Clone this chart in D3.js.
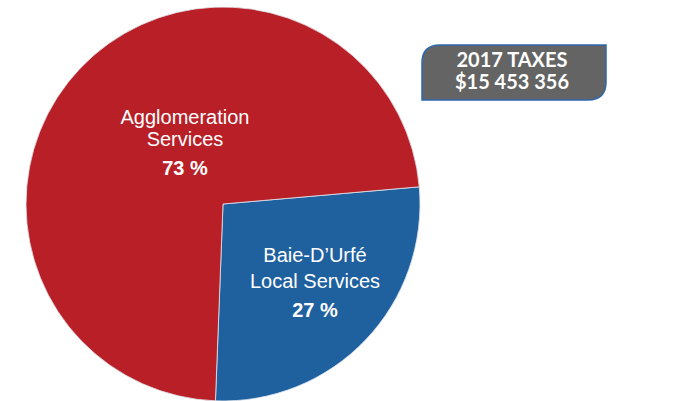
<!DOCTYPE html>
<html>
<head>
<meta charset="utf-8">
<script src="https://cdn.jsdelivr.net/npm/d3@7"></script>
<style>
  html, body { margin: 0; padding: 0; background: #fff; }
  svg { display: block; }
</style>
</head>
<body>
<svg id="chart" width="690" height="401"></svg>
<script>
// Data
var categories = ["Baie-D\u2019Urfé Local Services", "Agglomeration Services"];
var shares = [27, 73];
var labelLines = [["Baie-D\u2019Urfé", "Local Services"], ["Agglomeration", "Services"]];
var pctLabels = ["27 %", "73 %"];
var colors = ["#1f609f", "#b81f27"];
var boxLines = ["2017 TAXES", "$15 453 356"];

var svg = d3.select("#chart");
var cx = 223, cy = 204, radius = 197;

var pie = d3.pie()
  .sort(null)
  .startAngle(85 * Math.PI / 180)
  .endAngle(85 * Math.PI / 180 + 2 * Math.PI);
var arc = d3.arc().innerRadius(0).outerRadius(radius);

var g = svg.append("g").attr("transform", "translate(" + cx + "," + cy + ")");

g.selectAll("path.slice")
  .data(pie(shares))
  .enter().append("path")
    .attr("class", "slice")
    .attr("d", arc)
    .style("fill", function(d, i) { return colors[i]; })
    .style("stroke", "#dfe6ee")
    .style("stroke-width", 0.8);

// label anchors (relative to pie centre), one per slice
var labelPos = [{x: 92, y: 58, gap: 26, pctGap: 29},
                {x: -38, y: -80, gap: 22, pctGap: 29}];

var labels = g.selectAll("g.lbl")
  .data(shares)
  .enter().append("g")
    .attr("class", "lbl")
    .attr("transform", function(d, i) {
      return "translate(" + labelPos[i].x + "," + labelPos[i].y + ")";
    });

labels.each(function(d, i) {
  var sel = d3.select(this);
  labelLines[i].forEach(function(t, j) {
    sel.append("text")
      .attr("y", j * labelPos[i].gap)
      .attr("text-anchor", "middle")
      .style("font-family", "'Liberation Sans', Arial, sans-serif")
      .style("font-size", "20px")
      .style("fill", "#fff")
      .text(t);
  });
  sel.append("text")
    .attr("y", labelPos[i].gap + labelPos[i].pctGap)
    .attr("text-anchor", "middle")
    .style("font-family", "'Liberation Sans', Arial, sans-serif")
    .style("font-size", "20px")
    .style("font-weight", "bold")
    .style("fill", "#fff")
    .text(pctLabels[i]);
});

// total box, rounded top-left and bottom-right corners
var bx = 422, by = 45, bw = 184, bh = 55, r = 18;
var p = d3.path();
p.moveTo(bx + r, by);
p.lineTo(bx + bw, by);
p.lineTo(bx + bw, by + bh - r);
p.quadraticCurveTo(bx + bw, by + bh, bx + bw - r, by + bh);
p.lineTo(bx, by + bh);
p.lineTo(bx, by + r);
p.quadraticCurveTo(bx, by, bx + r, by);
p.closePath();

svg.append("path")
  .attr("d", p.toString())
  .style("fill", "#646464")
  .style("stroke", "#2c66b0")
  .style("stroke-width", 1.5);

svg.selectAll("text.box")
  .data(boxLines)
  .enter().append("text")
    .attr("class", "box")
    .attr("x", bx + bw / 2 - 2)
    .attr("y", function(d, i) { return 67 + i * 22; })
    .attr("text-anchor", "middle")
    .style("font-family", "Lato, 'Open Sans', sans-serif")
    .style("font-weight", "bold")
    .style("font-size", "20px")
    .style("fill", "#fff")
    .text(function(d) { return d; });
</script>
</body>
</html>
